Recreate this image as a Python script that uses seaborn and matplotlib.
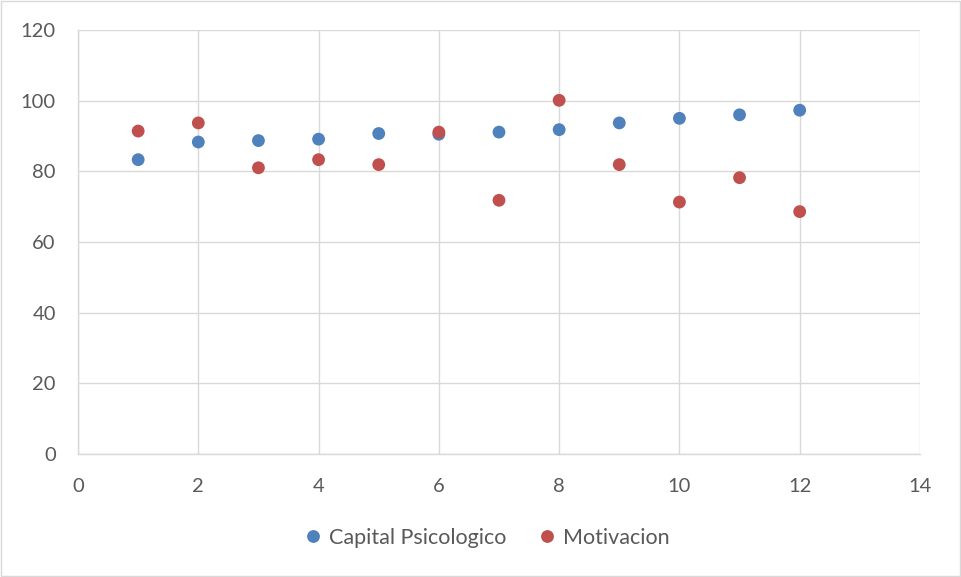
import numpy as np
import pandas as pd
import seaborn as sns
import matplotlib.pyplot as plt

# values
periodo = [1, 2, 3, 4, 5, 6, 7, 8, 9, 10, 11, 12]
capital_psicologico = [83.3, 88.3, 88.7, 89.1, 90.7, 90.5, 91.1, 91.8, 93.7, 95.0, 96.0, 97.3]
motivacion = [91.4, 93.7, 81.0, 83.3, 81.9, 91.1, 71.8, 100.1, 81.9, 71.3, 78.2, 68.6]

series = ["Capital Psicologico", "Motivacion"]
colores = ["#4F81BD", "#C0504D"]

data = pd.DataFrame({
    "x": periodo * 2,
    "y": capital_psicologico + motivacion,
    "serie": [series[0]] * len(periodo) + [series[1]] * len(periodo),
})

sns.set_theme(style="white")
plt.rcParams["font.family"] = ["Lato", "DejaVu Sans"]

fig = plt.figure(figsize=(9.61, 5.77), dpi=100)
ax = fig.add_axes([0.0812, 0.2132, 0.8761, 0.7348])

sns.scatterplot(
    data=data, x="x", y="y", hue="serie",
    palette=colores, s=85, edgecolor="none", ax=ax, zorder=3
)

ax.set_xlim(0, 14)
ax.set_ylim(0, 120)
ax.set_xticks(range(0, 15, 2))
ax.set_yticks(range(0, 121, 20))
ax.grid(True, color="#D9D9D9", linewidth=1)
ax.set_axisbelow(True)
for side in ["top", "right"]:
    ax.spines[side].set_visible(False)
for side in ["left", "bottom"]:
    ax.spines[side].set_color("#D9D9D9")
    ax.spines[side].set_linewidth(1)
ax.tick_params(axis="both", length=0, labelsize=14.5, labelcolor="#595959")
ax.tick_params(axis="y", pad=16)
ax.tick_params(axis="x", pad=17)
ax.set_xlabel("")
ax.set_ylabel("")

ax.legend(
    loc="center", bbox_to_anchor=(487 / 961, 1 - 538 / 577), bbox_transform=fig.transFigure,
    ncol=2, frameon=False, fontsize=15.5, labelcolor="#595959",
    handlelength=0.8, handletextpad=0.35, columnspacing=1.5, markerscale=1.0
)

# thin border around the chart like the original
fig.patches.append(plt.Rectangle((0.001, 0.001), 0.998, 0.998, transform=fig.transFigure,
                                 fill=False, edgecolor="#D9D9D9", linewidth=1))

fig.savefig("out.png", dpi=100)
